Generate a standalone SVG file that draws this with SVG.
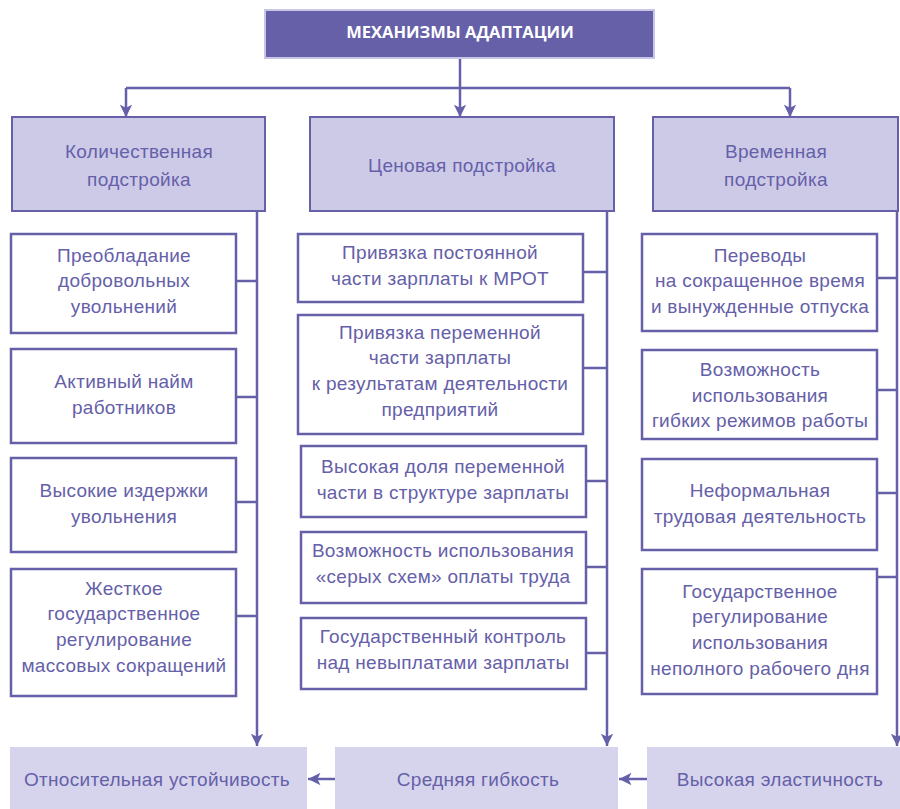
<svg xmlns="http://www.w3.org/2000/svg" width="900" height="809" viewBox="0 0 900 809">
<defs>
<style>
.t{font-family:"Liberation Sans",Arial,sans-serif;font-size:19px;letter-spacing:0.3px;fill:#6560a8;text-anchor:middle}
.tt{font-family:"Open Sans","Liberation Sans",sans-serif;font-size:16.5px;font-weight:bold;fill:#ffffff;text-anchor:middle}
.hdr{fill:#cdcae8;stroke:#6560a8;stroke-width:2}
.box{fill:#ffffff;stroke:#6560a8;stroke-width:2.5}
.res{fill:#d6d4ec}
.ln{stroke:#6560a8;stroke-width:2.5;fill:none}
</style>
<marker id="ah" viewBox="0 0 10 10" refX="10" refY="5" markerWidth="5.5" markerHeight="5" orient="auto" markerUnits="strokeWidth">
<path d="M0,0 L10,5 L0,10 L2.5,5 Z" fill="#6560a8"/>
</marker>
</defs>
<rect width="900" height="809" fill="#ffffff"/>

<g id="connectors">
<path class="ln" d="M460,58 V117" marker-end="url(#ah)"/>
<path class="ln" d="M126,88 H790"/>
<path class="ln" d="M126,88 V117" marker-end="url(#ah)"/>
<path class="ln" d="M790,88 V117" marker-end="url(#ah)"/>
<path class="ln" d="M257,211 V746" marker-end="url(#ah)"/>
<path class="ln" d="M607,211 V746" marker-end="url(#ah)"/>
<path class="ln" d="M897,211 V746" marker-end="url(#ah)"/>
<path class="ln" d="M236,281 H257 M236,397 H257 M236,502 H257 M236,616 H257"/>
<path class="ln" d="M583,272 H607 M583,368 H607 M586,481 H607 M586,567 H607 M586,653 H607"/>
<path class="ln" d="M877,278 H897 M877,390 H897 M877,493 H897 M877,577 H897"/>
<path class="ln" d="M335,779 H308" marker-end="url(#ah)"/>
<path class="ln" d="M647,779 H619" marker-end="url(#ah)"/>
</g>

<g id="title">
<rect x="265" y="10" width="389" height="48" fill="#6560a8" stroke="#c8c5e6" stroke-width="2"/>
<text class="tt" x="460" y="38">МЕХАНИЗМЫ АДАПТАЦИИ</text>
</g>

<g id="h-left">
<rect class="hdr" x="12" y="117" width="253" height="94"/>
<text class="t" x="139" y="158">Количественная</text>
<text class="t" x="139" y="186">подстройка</text>
</g>
<g id="h-mid">
<rect class="hdr" x="310" y="117" width="304" height="94"/>
<text class="t" x="462" y="172">Ценовая подстройка</text>
</g>
<g id="h-right">
<rect class="hdr" x="653" y="117" width="245" height="94"/>
<text class="t" x="776" y="158">Временная</text>
<text class="t" x="776" y="186">подстройка</text>
</g>

<g id="l1"><rect class="box" x="11" y="234" width="225" height="99"/>
<text class="t" x="124" y="262">Преобладание</text><text class="t" x="124" y="287">добровольных</text><text class="t" x="124" y="313">увольнений</text></g>
<g id="l2"><rect class="box" x="11" y="349" width="225" height="94"/>
<text class="t" x="124" y="388">Активный найм</text><text class="t" x="124" y="414">работников</text></g>
<g id="l3"><rect class="box" x="11" y="458" width="225" height="94"/>
<text class="t" x="124" y="497">Высокие издержки</text><text class="t" x="124" y="523">увольнения</text></g>
<g id="l4"><rect class="box" x="11" y="569" width="225" height="127"/>
<text class="t" x="124" y="595">Жесткое</text><text class="t" x="124" y="620">государственное</text><text class="t" x="124" y="646">регулирование</text><text class="t" x="124" y="672">массовых сокращений</text></g>

<g id="m1"><rect class="box" x="298" y="234" width="285" height="68"/>
<text class="t" x="440" y="259">Привязка постоянной</text><text class="t" x="440" y="285">части зарплаты к МРОТ</text></g>
<g id="m2"><rect class="box" x="298" y="315" width="285" height="119"/>
<text class="t" x="440" y="339">Привязка переменной</text><text class="t" x="440" y="364">части зарплаты</text><text class="t" x="440" y="390">к результатам деятельности</text><text class="t" x="440" y="416">предприятий</text></g>
<g id="m3"><rect class="box" x="301" y="446" width="285" height="71"/>
<text class="t" x="443" y="473">Высокая доля переменной</text><text class="t" x="443" y="499">части в структуре зарплаты</text></g>
<g id="m4"><rect class="box" x="301" y="532" width="285" height="71"/>
<text class="t" x="443" y="557">Возможность использования</text><text class="t" x="443" y="583">«серых схем» оплаты труда</text></g>
<g id="m5"><rect class="box" x="301" y="618" width="285" height="71"/>
<text class="t" x="443" y="643">Государственный контроль</text><text class="t" x="443" y="669">над невыплатами зарплаты</text></g>

<g id="r1"><rect class="box" x="642" y="234" width="235" height="97"/>
<text class="t" x="760" y="262">Переводы</text><text class="t" x="760" y="287">на сокращенное время</text><text class="t" x="760" y="313">и вынужденные отпуска</text></g>
<g id="r2"><rect class="box" x="642" y="350" width="235" height="89"/>
<text class="t" x="760" y="376">Возможность</text><text class="t" x="760" y="402">использования</text><text class="t" x="760" y="427">гибких режимов работы</text></g>
<g id="r3"><rect class="box" x="642" y="459" width="235" height="91"/>
<text class="t" x="760" y="497">Неформальная</text><text class="t" x="760" y="523">трудовая деятельность</text></g>
<g id="r4"><rect class="box" x="642" y="569" width="235" height="125"/>
<text class="t" x="760" y="598">Государственное</text><text class="t" x="760" y="623">регулирование</text><text class="t" x="760" y="649">использования</text><text class="t" x="760" y="675">неполного рабочего дня</text></g>

<g id="b-left"><rect class="res" x="10" y="747" width="297" height="62"/>
<text class="t" x="157" y="786">Относительная устойчивость</text></g>
<g id="b-mid"><rect class="res" x="335" y="747" width="283" height="62"/>
<text class="t" x="478" y="786">Средняя гибкость</text></g>
<g id="b-right"><rect class="res" x="647" y="747" width="253" height="62"/>
<text class="t" x="780" y="786">Высокая эластичность</text></g>
</svg>
